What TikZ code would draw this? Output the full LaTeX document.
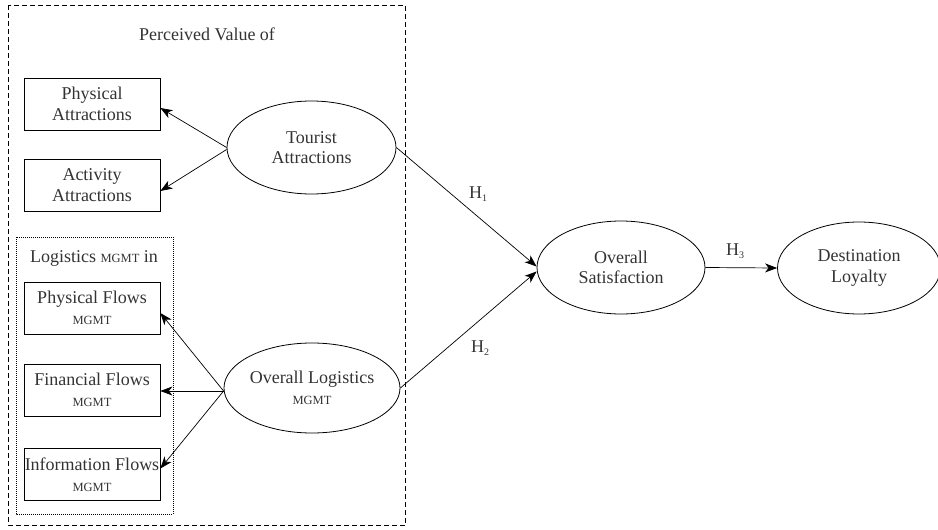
\documentclass[tikz,border=0pt]{standalone}
\usepackage{fontspec}
\setmainfont{Liberation Serif}
\usetikzlibrary{shapes.geometric,arrows.meta}
\newcommand{\mgt}{{\fontsize{12.5}{15}\selectfont MGMT}}
\newcommand{\hsub}[1]{H\raisebox{-3pt}{\fontsize{10}{10}\selectfont #1}}
\begin{document}
\begin{tikzpicture}[x=1pt,y=-1pt,
  txt/.style={font=\fontsize{18}{20.5}\selectfont, text=black!80},
  box/.style={txt, draw, line width=0.8pt, minimum width=136pt, minimum height=52pt, inner sep=0pt, align=center},
  ell/.style={txt, draw, ellipse, line width=0.8pt, inner sep=0pt, align=center},
  arr/.style={-{Stealth[length=12pt,width=9pt,inset=3.5pt]}, line width=0.7pt}]
\useasboundingbox (0,0) rectangle (938,530);
\draw[dash pattern=on 5pt off 3pt, line width=0.8pt] (8,5) rectangle (405.5,525);
\draw[dash pattern=on 1pt off 1pt, line width=0.7pt] (16,237) rectangle (173,514);
\node[txt] (pv) at (207,34) {Perceived Value of};
\node[txt] (lm) at (94,258) {Logistics \mgt{} in};
\node[box] (pa) at (92,104) {Physical\\Attractions};
\node[box] (aa) at (92,185) {Activity\\Attractions};
\node[box] (pf) at (92,308) {Physical Flows\\[1pt]\mgt};
\node[box] (ff) at (92,390) {Financial Flows\\[1pt]\mgt};
\node[box] (if) at (92,474.5) {Information Flows\\[1pt]\mgt};
\node[ell, minimum width=169pt, minimum height=93pt] (ta) at (311.5,147.5) {Tourist\\Attractions};
\node[ell, minimum width=170pt, minimum height=90pt] (ol) at (312,388) {Overall Logistics\\[1pt]\mgt};
\node[ell, minimum width=168pt, minimum height=93pt] (os) at (621,267.5) {Overall\\Satisfaction};
\node[ell, minimum width=163pt, minimum height=92pt] (dl) at (859,268) {Destination\\Loyalty};
\draw[arr] (ta.west) -- ([yshift=-4pt]pa.east);
\draw[arr] ([yshift=-2pt]ta.west) -- ([yshift=-6pt]aa.east);
\draw[arr] ([yshift=-3pt]ol.west) -- ([yshift=-5pt]pf.east);
\draw[arr] ([yshift=-3pt]ol.west) -- ([yshift=-1pt]ff.east);
\draw[arr] ([yshift=-3pt]ol.west) -- ([yshift=6pt]if.east);
\draw[arr] (ta.east) -- ([yshift=1pt]os.west);
\draw[arr] (ol.east) -- ([yshift=-4pt]os.west);
\draw[arr] (os.east) -- (dl.west);
\node[txt] (h1) at (478,194) {\hsub{1}};
\node[txt] (h2) at (480,348) {\hsub{2}};
\node[txt] (h3) at (735,251) {\hsub{3}};
\end{tikzpicture}
\end{document}
